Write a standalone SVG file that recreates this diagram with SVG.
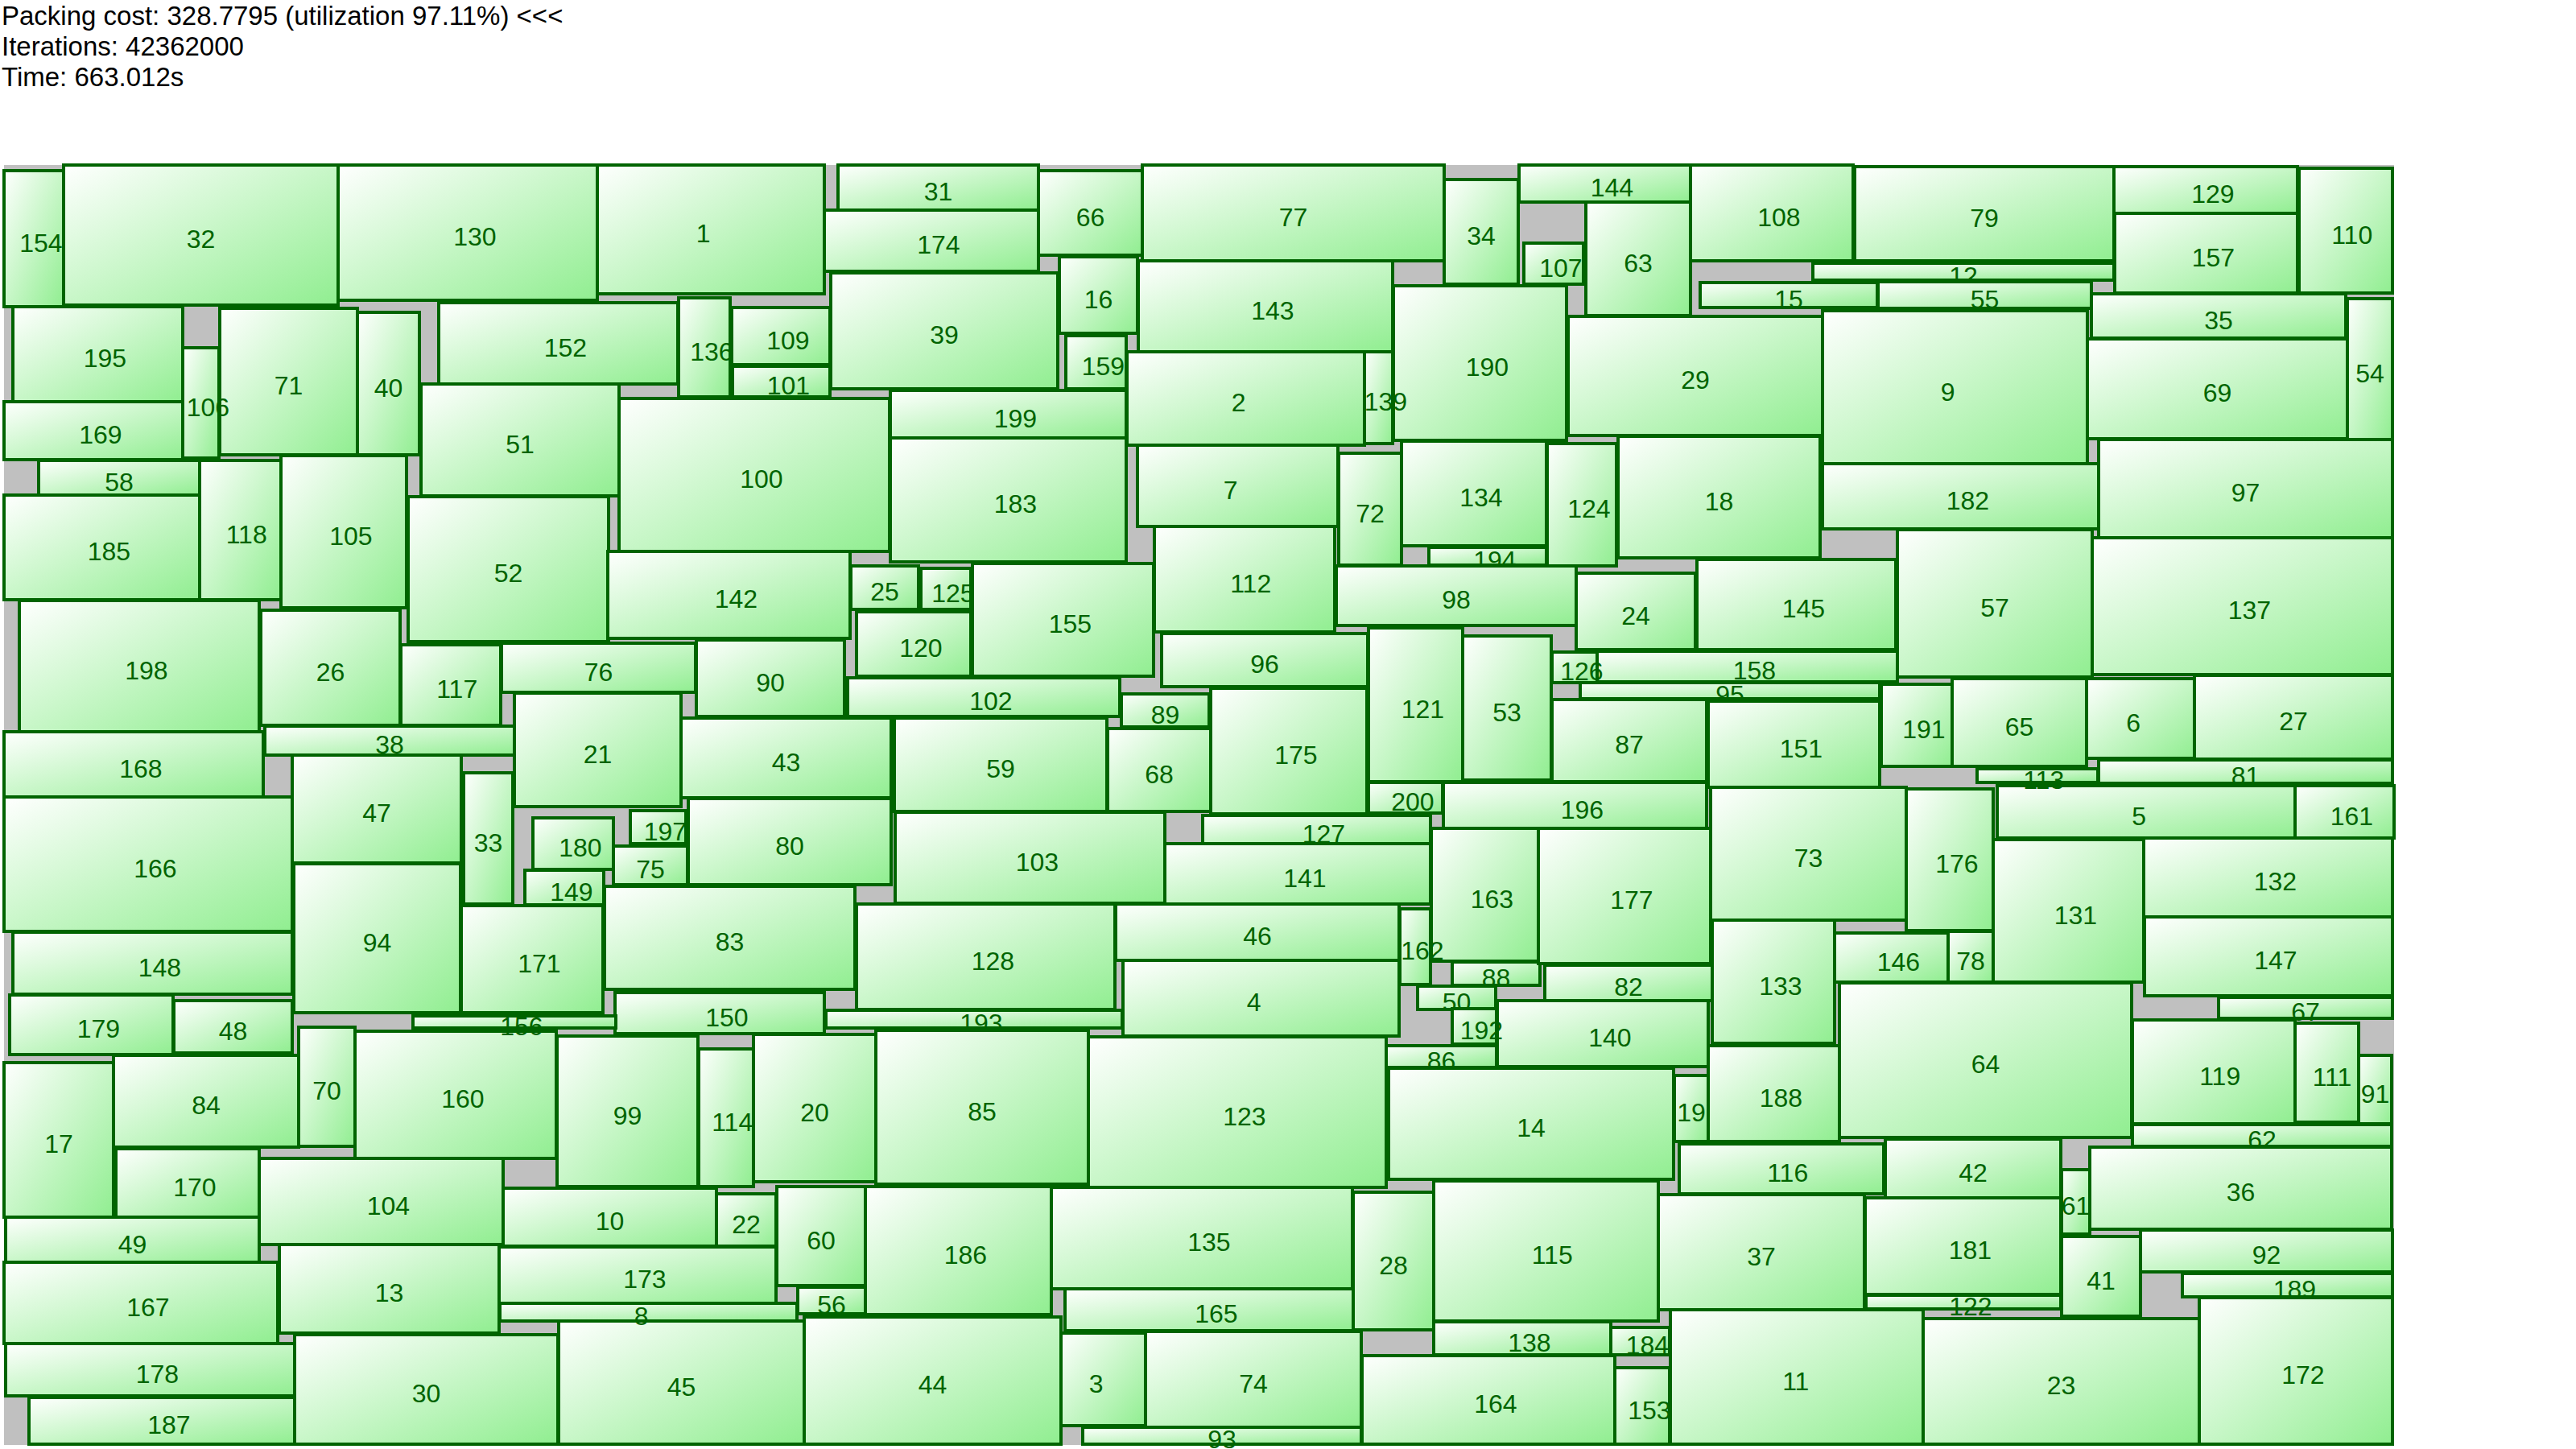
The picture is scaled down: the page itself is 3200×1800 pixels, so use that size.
<svg xmlns="http://www.w3.org/2000/svg" width="3200" height="1800" viewBox="0 0 3200 1800">
<defs>
<linearGradient id="g" x1="0" y1="0" x2="1" y2="1"><stop offset="0" stop-color="#ffffff"/><stop offset="1" stop-color="#90ee90"/></linearGradient>
<style>
.n rect{fill:url(#g);stroke:#006400;stroke-width:4}
.n text{font-family:"Liberation Sans",Arial,sans-serif;font-size:32px;fill:#006400}
.h{font-family:"Liberation Sans",Arial,sans-serif;font-size:33px;fill:#000000}
</style>
</defs>
<rect width="3200" height="1800" fill="#ffffff"/>
<text class="h" x="2" y="31">Packing cost: 328.7795 (utilization 97.11%) &lt;&lt;&lt;</text>
<text class="h" x="2" y="69">Iterations: 42362000</text>
<text class="h" x="2" y="107">Time: 663.012s</text>
<rect id="container" x="5" y="205" width="2969" height="1590" fill="#c0c0c0"/>
<g id="nodes">
<g id="n194" class="n"><rect x="1775" y="680" width="146" height="22"/><text x="1830.2" y="707">194</text></g>
<g id="n95" class="n"><rect x="1963" y="848" width="372" height="20"/><text x="2131.2" y="874">95</text></g>
<g id="n86" class="n"><rect x="1722" y="1299" width="137" height="27"/><text x="1772.7" y="1328.5">86</text></g>
<g id="n62" class="n"><rect x="2649" y="1397" width="322" height="27"/><text x="2792.2" y="1426.5">62</text></g>
<g id="n189" class="n"><rect x="2711" y="1582" width="261" height="29"/><text x="2823.7" y="1612.5">189</text></g>
<g id="n101" class="n"><rect x="910" y="455" width="121" height="38"/><text x="952.7" y="490">101</text></g>
<g id="n136" class="n"><rect x="843" y="370" width="64" height="123"/><text x="857.2" y="447.5">136</text></g>
<g id="n56" class="n"><rect x="991" y="1599" width="84" height="33"/><text x="1015.2" y="1631.5">56</text></g>
<g id="n81" class="n"><rect x="2607" y="944" width="365" height="29"/><text x="2771.7" y="974.5">81</text></g>
<g id="n12" class="n"><rect x="2252" y="327" width="374" height="21"/><text x="2421.2" y="353.5">12</text></g>
<g id="n127" class="n"><rect x="1494" y="1013" width="283" height="35"/><text x="1617.7" y="1046.5">127</text></g>
<g id="n125" class="n"><rect x="1144" y="706" width="62" height="51"/><text x="1157.2" y="747.5">125</text></g>
<g id="n149" class="n"><rect x="652" y="1081" width="98" height="43"/><text x="683.2" y="1118.5">149</text></g>
<g id="n67" class="n"><rect x="2756" y="1239" width="216" height="26"/><text x="2846.2" y="1268">67</text></g>
<g id="n88" class="n"><rect x="1804" y="1195" width="109" height="29"/><text x="1840.7" y="1225.5">88</text></g>
<g id="n1" class="n"><rect x="741" y="205" width="283" height="160"/><text x="864.7" y="301">1</text></g>
<g id="n2" class="n"><rect x="1400" y="437" width="295" height="116"/><text x="1529.7" y="511">2</text></g>
<g id="n3" class="n"><rect x="1318" y="1656" width="105" height="115"/><text x="1352.7" y="1729.5">3</text></g>
<g id="n4" class="n"><rect x="1395" y="1193" width="343" height="94"/><text x="1548.7" y="1256">4</text></g>
<g id="n5" class="n"><rect x="2481" y="976" width="370" height="65"/><text x="2648.2" y="1024.5">5</text></g>
<g id="n6" class="n"><rect x="2592" y="843" width="134" height="99"/><text x="2641.2" y="908.5">6</text></g>
<g id="n7" class="n"><rect x="1413" y="553" width="249" height="101"/><text x="1519.7" y="619.5">7</text></g>
<g id="n9" class="n"><rect x="2264" y="386" width="329" height="191"/><text x="2410.7" y="497.5">9</text></g>
<g id="n10" class="n"><rect x="625" y="1476" width="265" height="72"/><text x="739.7" y="1528">10</text></g>
<g id="n11" class="n"><rect x="2075" y="1627" width="314" height="167"/><text x="2214.2" y="1726.5">11</text></g>
<g id="n13" class="n"><rect x="347" y="1546" width="273" height="110"/><text x="465.7" y="1617">13</text></g>
<g id="n14" class="n"><rect x="1725" y="1327" width="354" height="138"/><text x="1884.2" y="1412">14</text></g>
<g id="n15" class="n"><rect x="2112" y="351" width="220" height="31"/><text x="2204.2" y="382.5">15</text></g>
<g id="n16" class="n"><rect x="1316" y="319" width="97" height="95"/><text x="1346.7" y="382.5">16</text></g>
<g id="n17" class="n"><rect x="5" y="1320" width="136" height="192"/><text x="55.2" y="1432">17</text></g>
<g id="n18" class="n"><rect x="2010" y="542" width="251" height="151"/><text x="2117.7" y="633.5">18</text></g>
<g id="n19" class="n"><rect x="2080" y="1336" width="42" height="82"/><text x="2083.2" y="1393">19</text></g>
<g id="n20" class="n"><rect x="936" y="1285" width="152" height="183"/><text x="994.2" y="1392.5">20</text></g>
<g id="n21" class="n"><rect x="639" y="861" width="207" height="141"/><text x="724.7" y="947.5">21</text></g>
<g id="n22" class="n"><rect x="890" y="1483" width="74" height="65"/><text x="909.2" y="1531.5">22</text></g>
<g id="n23" class="n"><rect x="2389" y="1638" width="343" height="156"/><text x="2542.7" y="1732">23</text></g>
<g id="n24" class="n"><rect x="1958" y="712" width="148" height="95"/><text x="2014.2" y="775.5">24</text></g>
<g id="n25" class="n"><rect x="1057" y="703" width="84" height="54"/><text x="1081.2" y="746">25</text></g>
<g id="n26" class="n"><rect x="324" y="758" width="173" height="143"/><text x="392.7" y="845.5">26</text></g>
<g id="n27" class="n"><rect x="2726" y="839" width="246" height="104"/><text x="2831.2" y="907">27</text></g>
<g id="n28" class="n"><rect x="1681" y="1481" width="100" height="171"/><text x="1713.2" y="1582.5">28</text></g>
<g id="n29" class="n"><rect x="1948" y="393" width="316" height="148"/><text x="2088.2" y="483">29</text></g>
<g id="n30" class="n"><rect x="366" y="1658" width="327" height="136"/><text x="511.7" y="1742">30</text></g>
<g id="n31" class="n"><rect x="1041" y="205" width="249" height="56"/><text x="1147.7" y="249">31</text></g>
<g id="n32" class="n"><rect x="79" y="205" width="341" height="174"/><text x="231.7" y="308">32</text></g>
<g id="n33" class="n"><rect x="576" y="960" width="61" height="163"/><text x="588.7" y="1057.5">33</text></g>
<g id="n34" class="n"><rect x="1794" y="223" width="92" height="130"/><text x="1822.2" y="304">34</text></g>
<g id="n35" class="n"><rect x="2598" y="365" width="316" height="55"/><text x="2738.2" y="408.5">35</text></g>
<g id="n36" class="n"><rect x="2596" y="1425" width="375" height="102"/><text x="2765.7" y="1492">36</text></g>
<g id="n37" class="n"><rect x="2060" y="1484" width="256" height="143"/><text x="2170.2" y="1571.5">37</text></g>
<g id="n38" class="n"><rect x="329" y="902" width="310" height="36"/><text x="466.2" y="936">38</text></g>
<g id="n39" class="n"><rect x="1032" y="339" width="282" height="144"/><text x="1155.2" y="427">39</text></g>
<g id="n40" class="n"><rect x="444" y="388" width="77" height="177"/><text x="464.7" y="492.5">40</text></g>
<g id="n41" class="n"><rect x="2561" y="1536" width="98" height="99"/><text x="2592.2" y="1601.5">41</text></g>
<g id="n42" class="n"><rect x="2342" y="1415" width="218" height="73"/><text x="2433.2" y="1467.5">42</text></g>
<g id="n43" class="n"><rect x="846" y="892" width="261" height="99"/><text x="958.7" y="957.5">43</text></g>
<g id="n44" class="n"><rect x="999" y="1636" width="319" height="158"/><text x="1140.7" y="1731">44</text></g>
<g id="n45" class="n"><rect x="694" y="1641" width="305" height="153"/><text x="828.7" y="1733.5">45</text></g>
<g id="n46" class="n"><rect x="1386" y="1123" width="352" height="70"/><text x="1544.2" y="1174">46</text></g>
<g id="n47" class="n"><rect x="363" y="938" width="210" height="134"/><text x="450.2" y="1021">47</text></g>
<g id="n48" class="n"><rect x="216" y="1243" width="147" height="65"/><text x="271.7" y="1291.5">48</text></g>
<g id="n49" class="n"><rect x="7" y="1512" width="315" height="57"/><text x="146.7" y="1556.5">49</text></g>
<g id="n50" class="n"><rect x="1761" y="1225" width="97" height="29"/><text x="1791.7" y="1255.5">50</text></g>
<g id="n51" class="n"><rect x="523" y="477" width="246" height="139"/><text x="628.2" y="562.5">51</text></g>
<g id="n52" class="n"><rect x="507" y="617" width="249" height="180"/><text x="613.7" y="723">52</text></g>
<g id="n53" class="n"><rect x="1817" y="790" width="110" height="179"/><text x="1854.2" y="895.5">53</text></g>
<g id="n54" class="n"><rect x="2916" y="371" width="56" height="175"/><text x="2926.2" y="474.5">54</text></g>
<g id="n55" class="n"><rect x="2333" y="350" width="265" height="33"/><text x="2447.7" y="382.5">55</text></g>
<g id="n57" class="n"><rect x="2357" y="658" width="242" height="183"/><text x="2460.2" y="765.5">57</text></g>
<g id="n58" class="n"><rect x="48" y="572" width="200" height="43"/><text x="130.2" y="609.5">58</text></g>
<g id="n59" class="n"><rect x="1111" y="892" width="264" height="116"/><text x="1225.2" y="966">59</text></g>
<g id="n60" class="n"><rect x="965" y="1474" width="110" height="123"/><text x="1002.2" y="1551.5">60</text></g>
<g id="n61" class="n"><rect x="2561" y="1453" width="35" height="80"/><text x="2560.7" y="1509">61</text></g>
<g id="n63" class="n"><rect x="1970" y="251" width="130" height="141"/><text x="2017.2" y="337.5">63</text></g>
<g id="n64" class="n"><rect x="2285" y="1221" width="363" height="192"/><text x="2448.7" y="1333">64</text></g>
<g id="n65" class="n"><rect x="2425" y="843" width="167" height="109"/><text x="2490.7" y="913.5">65</text></g>
<g id="n66" class="n"><rect x="1290" y="212" width="129" height="105"/><text x="1336.7" y="280.5">66</text></g>
<g id="n68" class="n"><rect x="1376" y="905" width="128" height="103"/><text x="1422.2" y="972.5">68</text></g>
<g id="n69" class="n"><rect x="2593" y="421" width="323" height="124"/><text x="2736.7" y="499">69</text></g>
<g id="n70" class="n"><rect x="371" y="1276" width="70" height="148"/><text x="388.2" y="1366">70</text></g>
<g id="n71" class="n"><rect x="273" y="383" width="171" height="182"/><text x="340.7" y="490">71</text></g>
<g id="n72" class="n"><rect x="1663" y="563" width="78" height="139"/><text x="1684.2" y="648.5">72</text></g>
<g id="n73" class="n"><rect x="2125" y="978" width="243" height="165"/><text x="2228.7" y="1076.5">73</text></g>
<g id="n74" class="n"><rect x="1423" y="1654" width="268" height="119"/><text x="1539.2" y="1729.5">74</text></g>
<g id="n75" class="n"><rect x="762" y="1051" width="92" height="48"/><text x="790.2" y="1091">75</text></g>
<g id="n76" class="n"><rect x="623" y="799" width="241" height="61"/><text x="725.7" y="845.5">76</text></g>
<g id="n77" class="n"><rect x="1419" y="205" width="375" height="119"/><text x="1588.7" y="280.5">77</text></g>
<g id="n78" class="n"><rect x="2420" y="1157" width="56" height="63"/><text x="2430.2" y="1204.5">78</text></g>
<g id="n79" class="n"><rect x="2304" y="207" width="322" height="117"/><text x="2447.2" y="281.5">79</text></g>
<g id="n80" class="n"><rect x="855" y="992" width="252" height="107"/><text x="963.2" y="1061.5">80</text></g>
<g id="n82" class="n"><rect x="1919" y="1199" width="208" height="44"/><text x="2005.2" y="1237">82</text></g>
<g id="n83" class="n"><rect x="751" y="1101" width="311" height="128"/><text x="888.7" y="1181">83</text></g>
<g id="n84" class="n"><rect x="141" y="1311" width="230" height="114"/><text x="238.2" y="1384">84</text></g>
<g id="n85" class="n"><rect x="1088" y="1280" width="264" height="191"/><text x="1202.2" y="1391.5">85</text></g>
<g id="n87" class="n"><rect x="1928" y="869" width="192" height="102"/><text x="2006.2" y="936">87</text></g>
<g id="n89" class="n"><rect x="1393" y="862" width="109" height="41"/><text x="1429.7" y="898.5">89</text></g>
<g id="n90" class="n"><rect x="865" y="795" width="184" height="95"/><text x="939.2" y="858.5">90</text></g>
<g id="n91" class="n"><rect x="2930" y="1311" width="41" height="85"/><text x="2932.7" y="1369.5">91</text></g>
<g id="n92" class="n"><rect x="2659" y="1528" width="313" height="52"/><text x="2797.7" y="1570">92</text></g>
<g id="n93" class="n"><rect x="1345" y="1773" width="346" height="21"/><text x="1500.2" y="1799">93</text></g>
<g id="n94" class="n"><rect x="365" y="1073" width="207" height="185"/><text x="450.7" y="1181.5">94</text></g>
<g id="n96" class="n"><rect x="1443" y="787" width="256" height="66"/><text x="1553.2" y="836">96</text></g>
<g id="n97" class="n"><rect x="2607" y="546" width="365" height="122"/><text x="2771.7" y="623">97</text></g>
<g id="n98" class="n"><rect x="1660" y="703" width="298" height="74"/><text x="1791.2" y="756">98</text></g>
<g id="n99" class="n"><rect x="692" y="1287" width="175" height="187"/><text x="761.7" y="1396.5">99</text></g>
<g id="n100" class="n"><rect x="769" y="495" width="336" height="190"/><text x="919.2" y="606">100</text></g>
<g id="n102" class="n"><rect x="1053" y="842" width="338" height="48"/><text x="1204.2" y="882">102</text></g>
<g id="n103" class="n"><rect x="1112" y="1009" width="335" height="113"/><text x="1261.7" y="1081.5">103</text></g>
<g id="n104" class="n"><rect x="322" y="1439" width="303" height="107"/><text x="455.7" y="1508.5">104</text></g>
<g id="n105" class="n"><rect x="349" y="566" width="156" height="189"/><text x="409.2" y="676.5">105</text></g>
<g id="n107" class="n"><rect x="1893" y="302" width="74" height="51"/><text x="1912.2" y="343.5">107</text></g>
<g id="n108" class="n"><rect x="2100" y="205" width="202" height="119"/><text x="2183.2" y="280.5">108</text></g>
<g id="n109" class="n"><rect x="909" y="382" width="122" height="71"/><text x="952.2" y="433.5">109</text></g>
<g id="n110" class="n"><rect x="2856" y="209" width="116" height="155"/><text x="2896.2" y="302.5">110</text></g>
<g id="n111" class="n"><rect x="2851" y="1271" width="79" height="123"/><text x="2872.7" y="1348.5">111</text></g>
<g id="n112" class="n"><rect x="1434" y="654" width="224" height="131"/><text x="1528.2" y="735.5">112</text></g>
<g id="n114" class="n"><rect x="868" y="1303" width="68" height="171"/><text x="884.2" y="1404.5">114</text></g>
<g id="n115" class="n"><rect x="1781" y="1467" width="279" height="174"/><text x="1902.7" y="1570">115</text></g>
<g id="n116" class="n"><rect x="2086" y="1421" width="254" height="62"/><text x="2195.2" y="1468">116</text></g>
<g id="n117" class="n"><rect x="498" y="801" width="124" height="100"/><text x="542.2" y="867">117</text></g>
<g id="n118" class="n"><rect x="248" y="572" width="101" height="173"/><text x="280.7" y="674.5">118</text></g>
<g id="n119" class="n"><rect x="2649" y="1267" width="202" height="129"/><text x="2732.2" y="1347.5">119</text></g>
<g id="n120" class="n"><rect x="1064" y="760" width="142" height="80"/><text x="1117.2" y="816">120</text></g>
<g id="n121" class="n"><rect x="1700" y="780" width="117" height="191"/><text x="1740.7" y="891.5">121</text></g>
<g id="n122" class="n"><rect x="2318" y="1609" width="242" height="17"/><text x="2421.2" y="1633.5">122</text></g>
<g id="n123" class="n"><rect x="1352" y="1288" width="370" height="187"/><text x="1519.2" y="1397.5">123</text></g>
<g id="n124" class="n"><rect x="1922" y="551" width="86" height="152"/><text x="1947.2" y="643">124</text></g>
<g id="n128" class="n"><rect x="1064" y="1123" width="321" height="131"/><text x="1206.7" y="1204.5">128</text></g>
<g id="n129" class="n"><rect x="2626" y="207" width="228" height="58"/><text x="2722.2" y="252">129</text></g>
<g id="n130" class="n"><rect x="420" y="205" width="322" height="168"/><text x="563.2" y="305">130</text></g>
<g id="n131" class="n"><rect x="2476" y="1043" width="187" height="177"/><text x="2551.7" y="1147.5">131</text></g>
<g id="n132" class="n"><rect x="2663" y="1041" width="309" height="98"/><text x="2799.7" y="1106">132</text></g>
<g id="n133" class="n"><rect x="2127" y="1143" width="152" height="153"/><text x="2185.2" y="1235.5">133</text></g>
<g id="n134" class="n"><rect x="1741" y="548" width="180" height="130"/><text x="1813.2" y="629">134</text></g>
<g id="n135" class="n"><rect x="1306" y="1475" width="374" height="126"/><text x="1475.2" y="1554">135</text></g>
<g id="n137" class="n"><rect x="2599" y="668" width="373" height="170"/><text x="2767.7" y="769">137</text></g>
<g id="n138" class="n"><rect x="1781" y="1642" width="220" height="41"/><text x="1873.2" y="1678.5">138</text></g>
<g id="n140" class="n"><rect x="1860" y="1243" width="262" height="82"/><text x="1973.2" y="1300">140</text></g>
<g id="n141" class="n"><rect x="1447" y="1048" width="330" height="75"/><text x="1594.2" y="1101.5">141</text></g>
<g id="n142" class="n"><rect x="755" y="685" width="301" height="108"/><text x="887.7" y="755">142</text></g>
<g id="n143" class="n"><rect x="1414" y="324" width="316" height="113"/><text x="1554.2" y="396.5">143</text></g>
<g id="n144" class="n"><rect x="1887" y="205" width="213" height="46"/><text x="1975.7" y="244">144</text></g>
<g id="n145" class="n"><rect x="2108" y="695" width="247" height="112"/><text x="2213.7" y="767">145</text></g>
<g id="n146" class="n"><rect x="2279" y="1159" width="141" height="61"/><text x="2331.7" y="1205.5">146</text></g>
<g id="n147" class="n"><rect x="2664" y="1139" width="308" height="98"/><text x="2800.2" y="1204">147</text></g>
<g id="n148" class="n"><rect x="16" y="1158" width="347" height="77"/><text x="171.7" y="1212.5">148</text></g>
<g id="n150" class="n"><rect x="764" y="1233" width="260" height="51"/><text x="876.2" y="1274.5">150</text></g>
<g id="n151" class="n"><rect x="2122" y="871" width="213" height="107"/><text x="2210.7" y="940.5">151</text></g>
<g id="n152" class="n"><rect x="545" y="376" width="297" height="101"/><text x="675.7" y="442.5">152</text></g>
<g id="n153" class="n"><rect x="2006" y="1699" width="68" height="95"/><text x="2022.2" y="1762.5">153</text></g>
<g id="n154" class="n"><rect x="5" y="212" width="74" height="169"/><text x="24.2" y="312.5">154</text></g>
<g id="n155" class="n"><rect x="1208" y="700" width="225" height="140"/><text x="1302.7" y="786">155</text></g>
<g id="n157" class="n"><rect x="2627" y="265" width="227" height="99"/><text x="2722.7" y="330.5">157</text></g>
<g id="n158" class="n"><rect x="1984" y="809" width="373" height="38"/><text x="2152.7" y="844">158</text></g>
<g id="n159" class="n"><rect x="1324" y="417" width="75" height="66"/><text x="1343.7" y="466">159</text></g>
<g id="n160" class="n"><rect x="441" y="1281" width="250" height="158"/><text x="548.2" y="1376">160</text></g>
<g id="n161" class="n"><rect x="2851" y="976" width="123" height="65"/><text x="2894.7" y="1024.5">161</text></g>
<g id="n163" class="n"><rect x="1778" y="1029" width="133" height="165"/><text x="1826.7" y="1127.5">163</text></g>
<g id="n164" class="n"><rect x="1692" y="1684" width="314" height="110"/><text x="1831.2" y="1755">164</text></g>
<g id="n165" class="n"><rect x="1323" y="1601" width="358" height="52"/><text x="1484.2" y="1643">165</text></g>
<g id="n166" class="n"><rect x="5" y="990" width="358" height="167"/><text x="166.2" y="1089.5">166</text></g>
<g id="n167" class="n"><rect x="5" y="1568" width="340" height="101"/><text x="157.2" y="1634.5">167</text></g>
<g id="n168" class="n"><rect x="5" y="909" width="322" height="81"/><text x="148.2" y="965.5">168</text></g>
<g id="n169" class="n"><rect x="5" y="499" width="222" height="72"/><text x="98.2" y="551">169</text></g>
<g id="n170" class="n"><rect x="144" y="1427" width="178" height="85"/><text x="215.2" y="1485.5">170</text></g>
<g id="n171" class="n"><rect x="573" y="1125" width="176" height="133"/><text x="643.2" y="1207.5">171</text></g>
<g id="n172" class="n"><rect x="2732" y="1612" width="240" height="182"/><text x="2834.2" y="1719">172</text></g>
<g id="n173" class="n"><rect x="620" y="1549" width="344" height="70"/><text x="774.2" y="1600">173</text></g>
<g id="n174" class="n"><rect x="1024" y="261" width="266" height="76"/><text x="1139.2" y="315">174</text></g>
<g id="n175" class="n"><rect x="1504" y="855" width="194" height="156"/><text x="1583.2" y="949">175</text></g>
<g id="n176" class="n"><rect x="2368" y="980" width="108" height="176"/><text x="2404.2" y="1084">176</text></g>
<g id="n177" class="n"><rect x="1911" y="1029" width="214" height="168"/><text x="2000.2" y="1129">177</text></g>
<g id="n178" class="n"><rect x="7" y="1669" width="359" height="65"/><text x="168.7" y="1717.5">178</text></g>
<g id="n179" class="n"><rect x="12" y="1236" width="203" height="74"/><text x="95.7" y="1289">179</text></g>
<g id="n180" class="n"><rect x="662" y="1016" width="100" height="64"/><text x="694.2" y="1064">180</text></g>
<g id="n181" class="n"><rect x="2317" y="1488" width="243" height="120"/><text x="2420.7" y="1564">181</text></g>
<g id="n182" class="n"><rect x="2264" y="576" width="343" height="81"/><text x="2417.7" y="632.5">182</text></g>
<g id="n183" class="n"><rect x="1106" y="544" width="293" height="154"/><text x="1234.7" y="637">183</text></g>
<g id="n184" class="n"><rect x="2001" y="1649" width="73" height="34"/><text x="2019.7" y="1682">184</text></g>
<g id="n185" class="n"><rect x="5" y="615" width="243" height="130"/><text x="108.7" y="696">185</text></g>
<g id="n186" class="n"><rect x="1075" y="1474" width="231" height="159"/><text x="1172.7" y="1569.5">186</text></g>
<g id="n187" class="n"><rect x="36" y="1736" width="330" height="58"/><text x="183.2" y="1781">187</text></g>
<g id="n188" class="n"><rect x="2122" y="1299" width="163" height="119"/><text x="2185.7" y="1374.5">188</text></g>
<g id="n190" class="n"><rect x="1731" y="355" width="215" height="192"/><text x="1820.7" y="467">190</text></g>
<g id="n191" class="n"><rect x="2337" y="850" width="88" height="102"/><text x="2363.2" y="917">191</text></g>
<g id="n195" class="n"><rect x="16" y="381" width="211" height="118"/><text x="103.7" y="456">195</text></g>
<g id="n196" class="n"><rect x="1793" y="972" width="327" height="57"/><text x="1938.7" y="1016.5">196</text></g>
<g id="n197" class="n"><rect x="783" y="1007" width="69" height="41"/><text x="799.7" y="1043.5">197</text></g>
<g id="n198" class="n"><rect x="24" y="746" width="298" height="163"/><text x="155.2" y="843.5">198</text></g>
<g id="n199" class="n"><rect x="1106" y="485" width="293" height="59"/><text x="1234.7" y="530.5">199</text></g>
<g id="n200" class="n"><rect x="1700" y="972" width="92" height="38"/><text x="1728.2" y="1007">200</text></g>
<g id="n139" class="n"><rect x="1695" y="437" width="35" height="114"/><text x="1694.7" y="510">139</text></g>
<g id="n162" class="n"><rect x="1739" y="1129" width="38" height="94"/><text x="1740.2" y="1192">162</text></g>
<g id="n126" class="n"><rect x="1928" y="810" width="56" height="38"/><text x="1938.2" y="845">126</text></g>
<g id="n192" class="n"><rect x="1804" y="1253" width="55" height="44"/><text x="1813.7" y="1291">192</text></g>
<g id="n8" class="n"><rect x="621" y="1619" width="369" height="22"/><text x="787.7" y="1646">8</text></g>
<g id="n156" class="n"><rect x="513" y="1262" width="252" height="15"/><text x="621.2" y="1285.5">156</text></g>
<g id="n193" class="n"><rect x="1026" y="1255" width="368" height="22"/><text x="1192.2" y="1282">193</text></g>
<g id="n106" class="n"><rect x="227" y="432" width="45" height="137"/><text x="231.7" y="516.5">106</text></g>
<g id="n113" class="n"><rect x="2456" y="955" width="150" height="17"/><text x="2513.2" y="979.5">113</text></g>
</g>
<g id="connectors"/>
</svg>
